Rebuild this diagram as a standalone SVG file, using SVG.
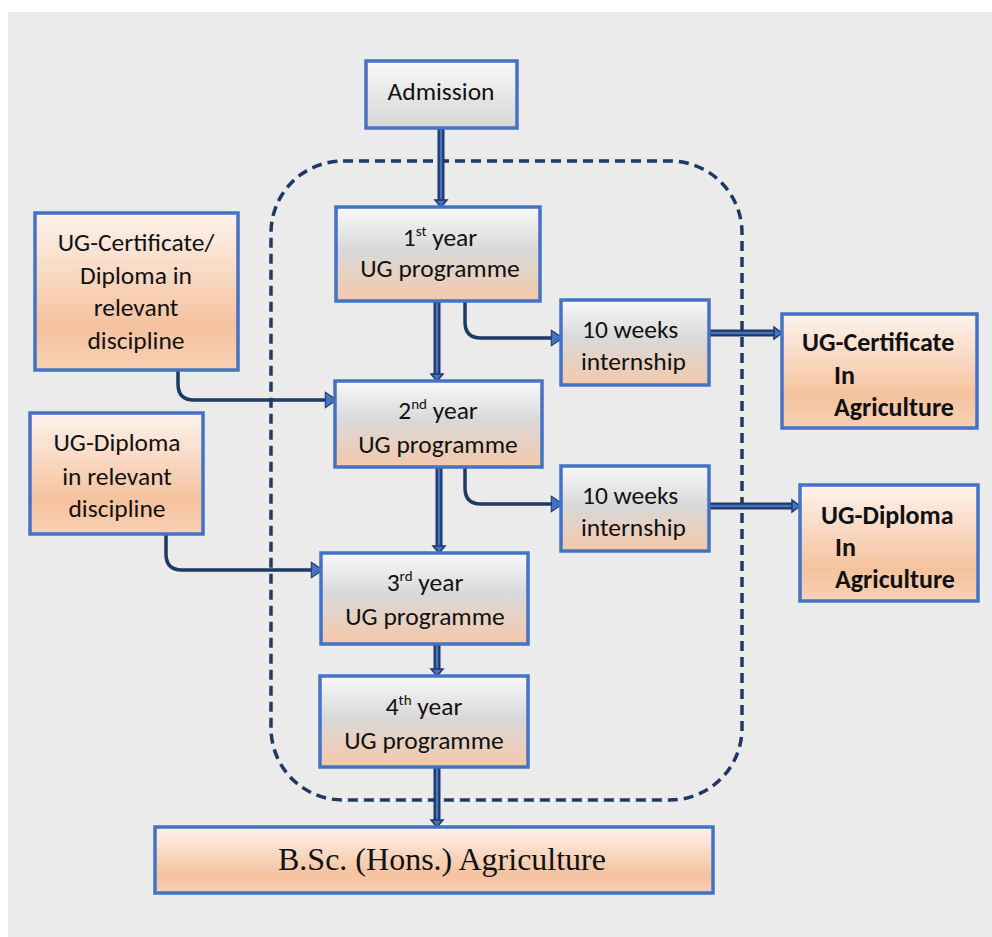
<svg xmlns="http://www.w3.org/2000/svg" width="992" height="937" viewBox="0 0 992 937">
<defs>
<linearGradient id="gGray" x1="0" y1="0" x2="0" y2="1">
<stop offset="0" stop-color="#f8f8f8"/><stop offset="1" stop-color="#d6d6d6"/>
</linearGradient>
<linearGradient id="gYear" x1="0" y1="0" x2="0" y2="1">
<stop offset="0" stop-color="#f9f9f9"/><stop offset="0.45" stop-color="#d9d9d9"/><stop offset="1" stop-color="#f4c8aa"/>
</linearGradient>
<linearGradient id="gPeach" x1="0" y1="0" x2="0" y2="1">
<stop offset="0" stop-color="#fdf3ed"/><stop offset="0.72" stop-color="#f5c29e"/><stop offset="1" stop-color="#f8d0b4"/>
</linearGradient>
<marker id="tri" markerWidth="4" markerHeight="5" refX="0.5" refY="2.5" orient="auto" markerUnits="strokeWidth">
<path d="M0.3,0.3 L3.6,2.5 L0.3,4.7 Z" fill="#4472c4" stroke="#203864" stroke-width="0.3"/>
</marker>
</defs>
<style>
.box{stroke:#4472c4;stroke-width:3.5}
.t{font-family:Carlito,Lato,"Liberation Sans",sans-serif;font-size:25.5px;fill:#111}
.b{font-family:Carlito,Lato,"Liberation Sans",sans-serif;font-size:26px;font-weight:bold;fill:#111}
.c{text-anchor:middle}
.el{fill:none;stroke:#203864;stroke-width:3.5;marker-end:url(#tri)}
.shO{fill:none;stroke:#203864;stroke-width:7}
.shI{fill:none;stroke:#4472c4;stroke-width:2.5}
.ah{fill:#4472c4;stroke:#203864;stroke-width:1.5}
.dash{fill:none;stroke:#203864;stroke-width:3.5;stroke-dasharray:10 6}
</style>
<rect x="8" y="12" width="984" height="925" fill="#ebebeb"/>
<rect class="dash" x="271" y="161" width="471" height="639" rx="72" ry="72"/>

<g id="connectors">
<path class="shO" d="M441,129 V201"/><path class="shI" d="M441,130 V201"/><path class="ah" d="M435,200 L447,200 L441,207 Z"/>
<path class="shO" d="M437,302 V375"/><path class="shI" d="M437,303 V375"/><path class="ah" d="M431,374 L443,374 L437,381 Z"/>
<path class="shO" d="M439,468 V547"/><path class="shI" d="M439,469 V547"/><path class="ah" d="M433,546 L445,546 L439,553 Z"/>
<path class="shO" d="M437,645 V670"/><path class="shI" d="M437,646 V670"/><path class="ah" d="M431,669 L443,669 L437,676 Z"/>
<path class="shO" d="M437,768 V821"/><path class="shI" d="M437,769 V821"/><path class="ah" d="M431,820 L443,820 L437,827 Z"/>
<path class="shO" d="M710,333 H775"/><path class="shI" d="M711,333 H775"/><path class="ah" d="M774,327 L774,339 L782,333 Z"/>
<path class="shO" d="M710,506 H793"/><path class="shI" d="M711,506 H793"/><path class="ah" d="M792,500 L792,512 L800,506 Z"/>
<path class="el" d="M465,302 V322 Q465,338 481,338 H552"/>
<path class="el" d="M465,468 V488 Q465,504 481,504 H552"/>
<path class="el" d="M178,370 V384 Q178,400 194,400 H326"/>
<path class="el" d="M166,535 V554 Q166,570 182,570 H312"/>
</g>

<g id="admission"><rect class="box" x="366" y="61" width="151" height="67" fill="url(#gGray)"/>
<text class="t c" x="441" y="100">Admission</text></g>

<g id="year1"><rect class="box" x="336" y="207" width="204" height="94" fill="url(#gYear)"/>
<text class="t c" x="440" y="246">1<tspan font-size="15" dy="-10">st</tspan><tspan dy="10"> year</tspan></text>
<text class="t c" x="440" y="277">UG programme</text></g>

<g id="intern1"><rect class="box" x="561" y="300" width="148" height="85" fill="url(#gYear)"/>
<text class="t" x="582" y="338">10 weeks</text><text class="t" x="581" y="370">internship</text></g>

<g id="ugcert"><rect class="box" x="782" y="314" width="195" height="114" fill="url(#gPeach)"/>
<text class="b" x="802" y="351">UG-Certificate</text><text class="b" x="834" y="384">In</text><text class="b" x="834" y="416">Agriculture</text></g>

<g id="certdip"><rect class="box" x="35" y="213" width="203" height="157" fill="url(#gPeach)"/>
<text class="t c" x="136" y="251">UG-Certificate/</text><text class="t c" x="136" y="284">Diploma in</text>
<text class="t c" x="136" y="316">relevant</text><text class="t c" x="136" y="349">discipline</text></g>

<g id="year2"><rect class="box" x="335" y="381" width="207" height="86" fill="url(#gYear)"/>
<text class="t c" x="438" y="419">2<tspan font-size="15" dy="-10">nd</tspan><tspan dy="10"> year</tspan></text>
<text class="t c" x="438" y="453">UG programme</text></g>

<g id="intern2"><rect class="box" x="561" y="466" width="148" height="85" fill="url(#gYear)"/>
<text class="t" x="582" y="504">10 weeks</text><text class="t" x="581" y="536">internship</text></g>

<g id="ugdip"><rect class="box" x="800" y="485" width="178" height="116" fill="url(#gPeach)"/>
<text class="b" x="821" y="524">UG-Diploma</text><text class="b" x="835" y="556">In</text><text class="b" x="835" y="588">Agriculture</text></g>

<g id="diprel"><rect class="box" x="30" y="413" width="173" height="121" fill="url(#gPeach)"/>
<text class="t c" x="117" y="451">UG-Diploma</text><text class="t c" x="117" y="485">in relevant</text><text class="t c" x="117" y="517">discipline</text></g>

<g id="year3"><rect class="box" x="321" y="553" width="207" height="91" fill="url(#gYear)"/>
<text class="t c" x="425" y="591">3<tspan font-size="15" dy="-10">rd</tspan><tspan dy="10"> year</tspan></text>
<text class="t c" x="425" y="625">UG programme</text></g>

<g id="year4"><rect class="box" x="320" y="676" width="208" height="91" fill="url(#gYear)"/>
<text class="t c" x="424" y="715">4<tspan font-size="15" dy="-10">th</tspan><tspan dy="10"> year</tspan></text>
<text class="t c" x="424" y="749">UG programme</text></g>

<g id="bsc"><rect class="box" x="155" y="827" width="558" height="66" fill="url(#gPeach)"/>
<text x="442" y="870" text-anchor="middle" font-family="Liberation Serif,serif" font-size="32" fill="#111">B.Sc. (Hons.) Agriculture</text></g>
</svg>
